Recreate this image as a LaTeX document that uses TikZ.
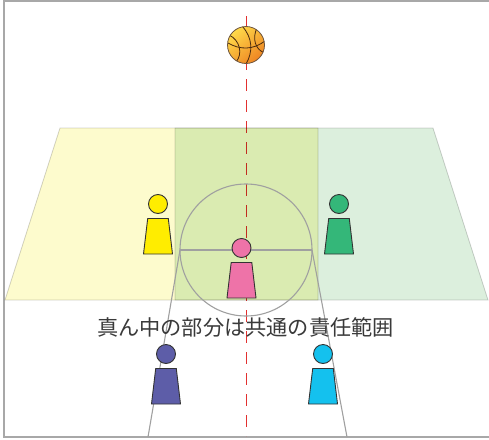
\documentclass[tikz,border=0pt]{standalone}
\usepackage{fontspec}
\newfontfamily\jpfont{Noto Sans CJK JP}

\definecolor{framegray}{HTML}{A8A8A8}
\definecolor{linegray}{HTML}{A0A0A0}
\definecolor{zoneline}{HTML}{D2D2D2}
\definecolor{zoneyellow}{HTML}{FDFBCD}
\definecolor{zonegreen}{HTML}{DCEFDD}
\definecolor{axisred}{HTML}{E2302F}
\definecolor{ballyellow}{HTML}{FFDA4A}
\definecolor{ballorange}{HTML}{EE8422}
\definecolor{seam}{HTML}{4A2A0E}
\definecolor{pyellow}{HTML}{FFED00}
\definecolor{pgreen}{HTML}{34B779}
\definecolor{ppink}{HTML}{EE73A8}
\definecolor{ppurple}{HTML}{5D5DA8}
\definecolor{pcyan}{HTML}{14C1EE}
\definecolor{textgray}{HTML}{3A3A3A}

% one player: head centre x, y and colour
\newcommand{\player}[3]{%
  \draw[playerline, fill=#3] (#1,#2) circle[radius=9.5pt];
  \draw[playerline, fill=#3] (#1-10.3,#2+14.5) -- (#1+10.3,#2+14.5)
    -- (#1+14.5,#2+50) -- (#1-14.5,#2+50) -- cycle;
}

\begin{document}
\begin{tikzpicture}[x=1pt, y=-1pt,
    playerline/.style={draw=black!80, line width=0.9pt, line join=round},
    zone/.style={draw=zoneline, line width=0.8pt},
    court/.style={linegray, line width=1.1pt}]
  \useasboundingbox (0,0) rectangle (489,439);

  % frame
  \draw[framegray, line width=1.6pt] (489,1) -- (4,1) -- (4,437) -- (489,437);

  % centre axis
  \draw[axisred, line width=1pt, dash pattern=on 12pt off 9pt] (246,16) -- (246,436);

  % the two zones, overlapping in the middle
  \begin{scope}[blend mode=multiply]
    \fill[zoneyellow] (60,128) -- (318,128) -- (318,300) -- (5,300) -- cycle;
    \fill[zonegreen] (175,128) -- (433,128) -- (488,300) -- (175,300) -- cycle;
    \draw[zone] (60,128) -- (318,128) -- (318,300) -- (5,300) -- cycle;
    \draw[zone] (175,128) -- (433,128) -- (488,300) -- (175,300) -- cycle;
  \end{scope}

  % centre circle and the lane lines
  \draw[court] (246,250) circle[radius=66pt];
  \draw[court] (180,250) -- (312,250);
  \draw[court] (180,250) -- (148,437);
  \draw[court] (312,250) -- (347,437);

  % ball
  \shade[top color=ballyellow, bottom color=ballorange, shading angle=40]
    (246,45) circle[radius=18.5pt];
  \begin{scope}
    \clip (246,45) circle[radius=18.5pt];
    \draw[seam, line width=0.8pt] (228,43) .. controls (240,50) and (253,50) .. (265,41);
    \draw[seam, line width=0.8pt] (242,26) .. controls (253,38) and (253,52) .. (246,64);
    \draw[seam, line width=0.8pt] (229,35) .. controls (240,40) and (243,54) .. (236,62);
    \draw[seam, line width=0.8pt] (257,28) .. controls (252,38) and (255,50) .. (265,53);
  \end{scope}
  \draw[seam!80, line width=0.8pt] (246,45) circle[radius=18.5pt];

  % players
  \player{158}{204}{pyellow}
  \player{339}{204}{pgreen}
  \player{241.5}{248}{ppink}
  \player{166}{354}{ppurple}
  \player{323}{354}{pcyan}

  \node[textgray, font=\jpfont\fontsize{21.2}{25}\selectfont] (caption) at (245.5,327)
    {真ん中の部分は共通の責任範囲};
\end{tikzpicture}
\end{document}
